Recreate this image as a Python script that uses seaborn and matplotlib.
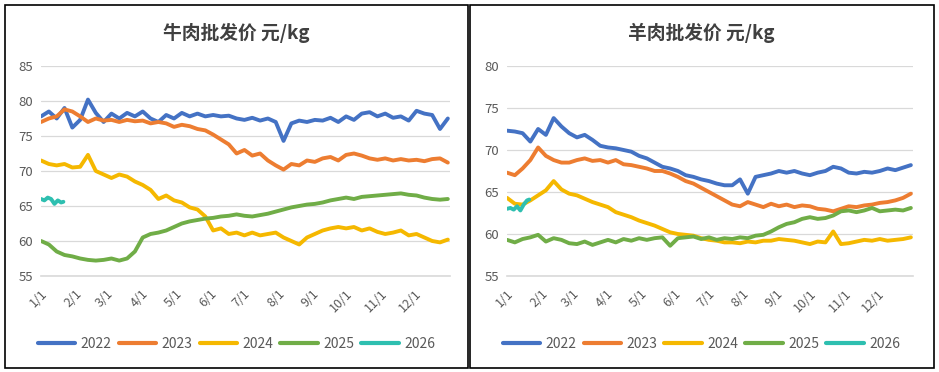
import numpy as np
import pandas as pd
import matplotlib
matplotlib.use("Agg")
import matplotlib.pyplot as plt
from matplotlib.lines import Line2D
from matplotlib.patches import Rectangle
import seaborn as sns

sns.set_style("white")
plt.rcParams['font.family'] = ['Noto Sans CJK SC', 'DejaVu Sans']

# weekly readings (day 0, 7, 14, ... 364)
weeks = list(range(0, 365, 7))
years = ['2022', '2023', '2024', '2025', '2026']
colors = ['#4472C4', '#ED7D31', '#F5B800', '#70AD47', '#2EBFB0']

beef_2022 = [77.8, 78.5, 77.5, 79.0, 76.2, 77.3, 80.2, 78.3, 77.0, 78.2, 77.5, 78.3, 77.8, 78.5,
             77.5, 77.0, 78.0, 77.5, 78.3, 77.8, 78.2, 77.8, 78.0, 77.8, 77.9, 77.5, 77.3, 77.6,
             77.2, 77.5, 77.0, 74.3, 76.8, 77.2, 77.0, 77.3, 77.2, 77.6, 77.0, 77.8, 77.3, 78.2,
             78.4, 77.8, 78.2, 77.6, 77.8, 77.2, 78.6, 78.2, 78.0, 76.0, 77.5]
beef_2023 = [77.0, 77.5, 77.8, 78.8, 78.5, 77.8, 77.0, 77.5, 77.2, 77.3, 77.0, 77.3, 77.1, 77.2,
             76.8, 77.0, 76.8, 76.3, 76.6, 76.4, 76.0, 75.8, 75.2, 74.5, 73.8, 72.5, 73.0, 72.2,
             72.5, 71.5, 70.8, 70.2, 71.0, 70.8, 71.5, 71.3, 71.8, 72.0, 71.5, 72.3, 72.5, 72.2,
             71.8, 71.6, 71.8, 71.5, 71.7, 71.5, 71.6, 71.4, 71.7, 71.8, 71.2]
beef_2024 = [71.5, 71.0, 70.8, 71.0, 70.5, 70.6, 72.3, 70.0, 69.5, 69.0, 69.5, 69.2, 68.5, 68.0,
             67.3, 66.0, 66.5, 65.8, 65.5, 64.8, 64.5, 63.5, 61.5, 61.8, 61.0, 61.2, 60.8, 61.2,
             60.8, 61.0, 61.2, 60.5, 60.0, 59.5, 60.5, 61.0, 61.5, 61.8, 62.0, 61.8, 62.0, 61.5,
             61.8, 61.3, 61.0, 61.2, 61.5, 60.8, 61.0, 60.5, 60.0, 59.8, 60.2]
beef_2025 = [60.0, 59.5, 58.5, 58.0, 57.8, 57.5, 57.3, 57.2, 57.3, 57.5, 57.2, 57.5, 58.5, 60.5,
             61.0, 61.2, 61.5, 62.0, 62.5, 62.8, 63.0, 63.2, 63.3, 63.5, 63.6, 63.8, 63.6, 63.5,
             63.7, 63.9, 64.2, 64.5, 64.8, 65.0, 65.2, 65.3, 65.5, 65.8, 66.0, 66.2, 66.0, 66.3,
             66.4, 66.5, 66.6, 66.7, 66.8, 66.6, 66.5, 66.2, 66.0, 65.9, 66.0]
days_2026 = [0, 3, 6, 9, 12, 15, 18, 20]
beef_2026 = [66.0, 65.8, 66.2, 66.0, 65.3, 65.8, 65.5, 65.6]

mutton_2022 = [72.3, 72.2, 72.0, 71.0, 72.5, 71.8, 73.8, 72.8, 72.0, 71.5, 71.8, 71.2, 70.5, 70.3,
               70.2, 70.0, 69.8, 69.3, 69.0, 68.5, 68.0, 67.8, 67.5, 67.0, 66.8, 66.5, 66.3, 66.0,
               65.8, 65.8, 66.5, 64.8, 66.8, 67.0, 67.2, 67.5, 67.3, 67.5, 67.2, 67.0, 67.3, 67.5,
               68.0, 67.8, 67.3, 67.2, 67.4, 67.3, 67.5, 67.8, 67.6, 67.9, 68.2]
mutton_2023 = [67.3, 67.0, 67.8, 68.8, 70.3, 69.3, 68.8, 68.5, 68.5, 68.8, 69.0, 68.7, 68.8, 68.5,
               68.8, 68.3, 68.2, 68.0, 67.8, 67.5, 67.5, 67.2, 66.8, 66.3, 66.0, 65.5, 65.0, 64.5,
               64.0, 63.5, 63.3, 63.8, 63.5, 63.2, 63.6, 63.3, 63.5, 63.2, 63.4, 63.3, 63.0, 62.9,
               62.7, 63.0, 63.3, 63.2, 63.4, 63.5, 63.7, 63.8, 64.0, 64.3, 64.8]
mutton_2024 = [64.3, 63.6, 63.5, 64.0, 64.6, 65.2, 66.3, 65.3, 64.8, 64.6, 64.2, 63.8, 63.5, 63.2,
               62.6, 62.3, 62.0, 61.6, 61.3, 61.0, 60.6, 60.2, 60.0, 59.9, 59.8, 59.5, 59.3, 59.2,
               59.0, 59.0, 58.9, 59.1, 59.0, 59.2, 59.2, 59.4, 59.3, 59.2, 59.0, 58.8, 59.1, 59.0,
               60.3, 58.8, 58.9, 59.1, 59.3, 59.2, 59.4, 59.2, 59.3, 59.4, 59.6]
mutton_2025 = [59.3, 59.0, 59.4, 59.6, 59.9, 59.1, 59.5, 59.3, 58.9, 58.8, 59.1, 58.7, 59.0, 59.3,
               59.0, 59.4, 59.2, 59.5, 59.3, 59.5, 59.6, 58.6, 59.5, 59.6, 59.7, 59.4, 59.6, 59.3,
               59.5, 59.4, 59.6, 59.5, 59.8, 59.9, 60.3, 60.8, 61.2, 61.4, 61.8, 62.0, 61.8, 61.9,
               62.2, 62.7, 62.8, 62.6, 62.8, 63.1, 62.7, 62.8, 62.9, 62.8, 63.1]
mutton_2026 = [63.0, 63.1, 62.9, 63.3, 62.8, 63.5, 64.0, 64.1]

month_days = [0, 31, 59, 90, 120, 151, 181, 212, 243, 273, 304, 334, 365]
month_labels = ['1/1', '2/1', '3/1', '4/1', '5/1', '6/1', '7/1', '8/1', '9/1', '10/1', '11/1', '12/1']


def make_df(series):
    parts = []
    for yr, vals in zip(years, series):
        x = days_2026 if yr == '2026' else weeks
        parts.append(pd.DataFrame({'day': x, 'price': vals, 'year': yr}))
    return pd.concat(parts, ignore_index=True)


beef = make_df([beef_2022, beef_2023, beef_2024, beef_2025, beef_2026])
mutton = make_df([mutton_2022, mutton_2023, mutton_2024, mutton_2025, mutton_2026])

fig = plt.figure(figsize=(9.39, 3.72), dpi=100)
ax1 = fig.add_axes([0.0437, 0.2581, 0.4356, 0.5645])
ax2 = fig.add_axes([0.5400, 0.2581, 0.4324, 0.5645])

panels = [(ax1, beef, '牛肉批发价 元/kg', (55, 85), 0.252),
          (ax2, mutton, '羊肉批发价 元/kg', (55, 80), 0.747)]

for ax, df, title, ylim, cx in panels:
    sns.lineplot(data=df, x='day', y='price', hue='year', palette=colors,
                 linewidth=2.8, ax=ax, legend=False)
    ax.set_xlim(0, 366)
    ax.set_ylim(*ylim)
    ax.set_yticks(range(ylim[0], ylim[1] + 1, 5))
    ax.set_xticks(month_days)
    ax.set_xticklabels(month_labels + [''], rotation=45, ha='right', rotation_mode='anchor')
    ax.tick_params(axis='x', length=5, color='#D9D9D9', labelsize=9, labelcolor='#595959', pad=3)
    ax.tick_params(axis='y', length=0, labelsize=9.5, labelcolor='#595959', pad=6)
    ax.grid(axis='y', color='#D9D9D9', linewidth=0.9)
    ax.set_axisbelow(True)
    for s in ['top', 'right', 'left']:
        ax.spines[s].set_visible(False)
    ax.spines['bottom'].set_color('#D9D9D9')
    ax.spines['bottom'].set_linewidth(1.2)
    ax.set_xlabel('')
    ax.set_ylabel('')
    fig.text(cx, 0.912, title, ha='center', va='center', fontsize=13.5,
             fontweight='bold', color='#404040')
    handles = [Line2D([], [], color=c, linewidth=3) for c in colors]
    fig.legend(handles, years, loc='center', bbox_to_anchor=(cx, 0.075), ncol=5,
               frameon=False, fontsize=10, handlelength=2.7, handletextpad=0.4,
               columnspacing=0.5, labelcolor='#595959')

# panel borders
fig.add_artist(Rectangle((5 / 939, 4 / 372), 463 / 939, 363 / 372, transform=fig.transFigure,
                         fill=False, edgecolor='black', linewidth=1.2))
fig.add_artist(Rectangle((470 / 939, 4 / 372), 464 / 939, 363 / 372, transform=fig.transFigure,
                         fill=False, edgecolor='black', linewidth=1.2))

plt.savefig('out.png', dpi=100)
